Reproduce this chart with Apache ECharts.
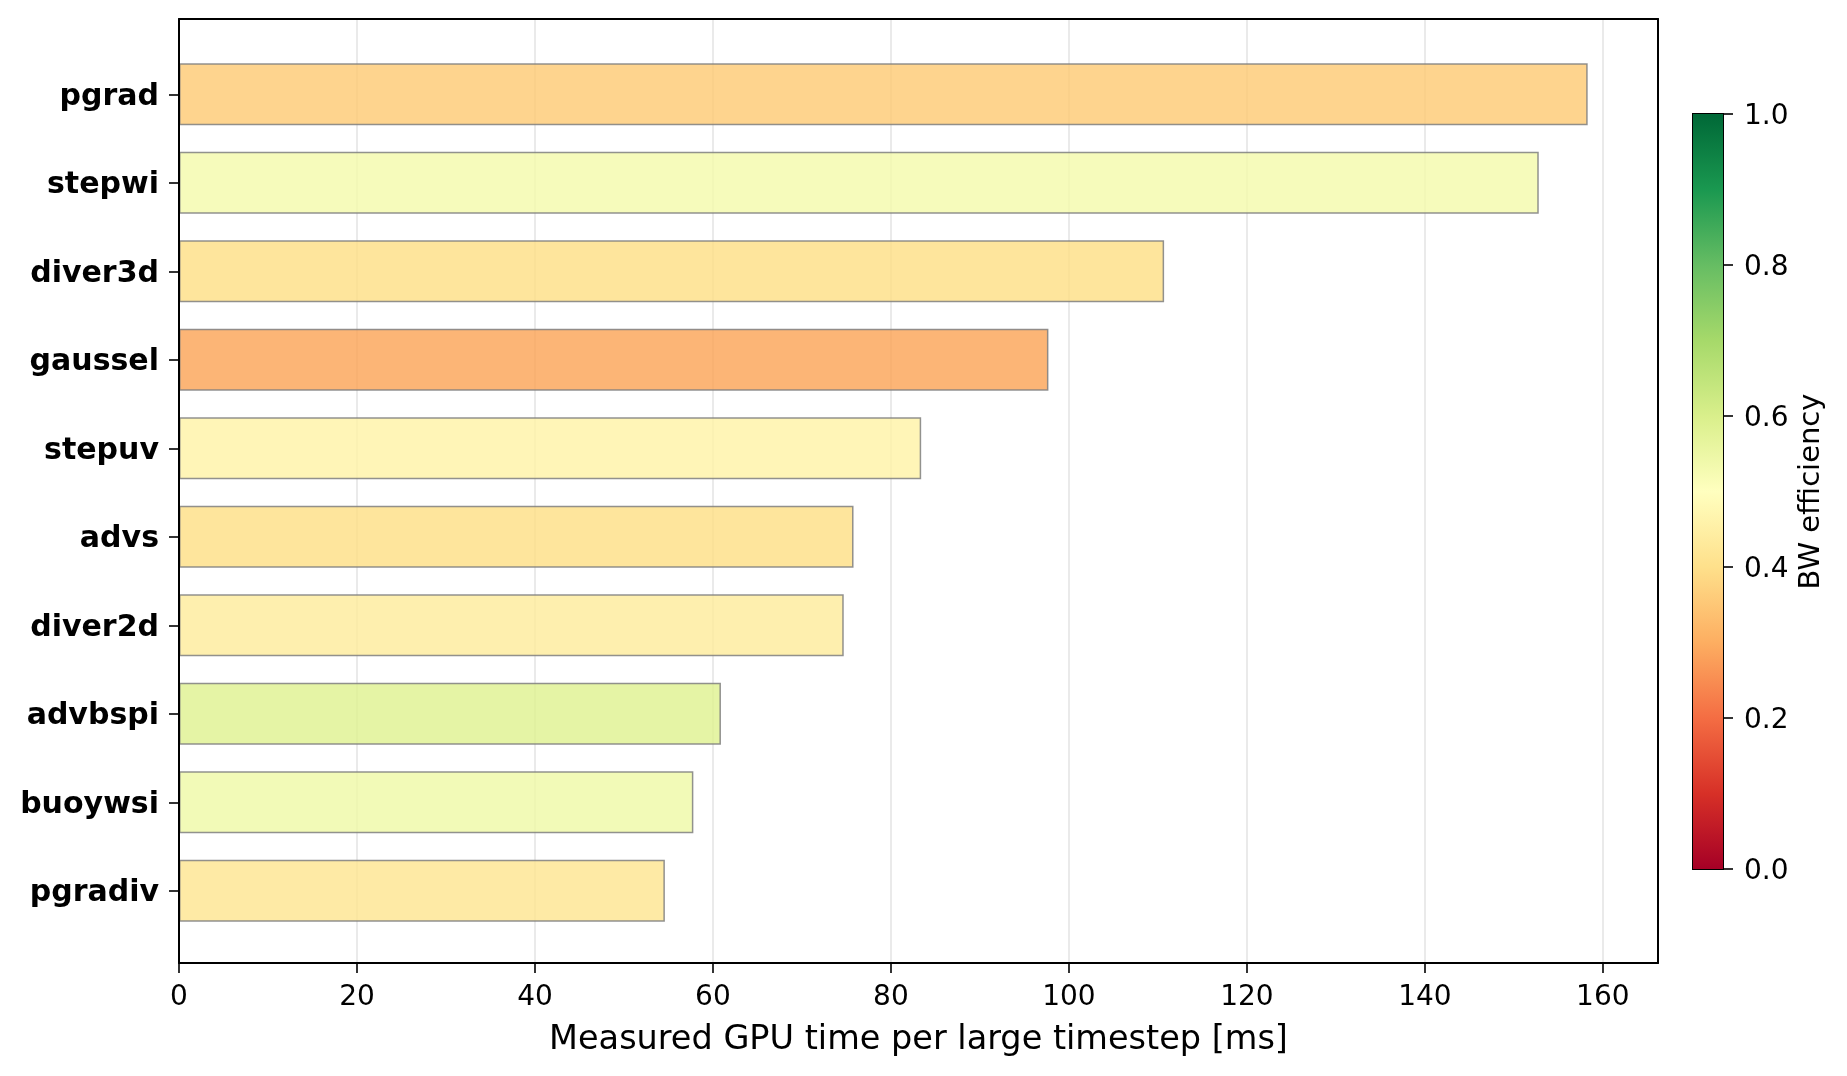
<!DOCTYPE html>
<html>
<head>
<meta charset="utf-8">
<title>GPU time per kernel</title>
<script src="https://cdn.jsdelivr.net/npm/echarts@6/dist/echarts.min.js"></script>
<style>
  html, body { margin: 0; padding: 0; background: #fff; }
  #chart { width: 1847px; height: 1076px; }
</style>
</head>
<body>
<div id="chart"></div>
<script>
// kernels, top to bottom
const kernels = ['pgrad', 'stepwi', 'diver3d', 'gaussel', 'stepuv', 'advs', 'diver2d', 'advbspi', 'buoywsi', 'pgradiv'];
// measured GPU time per large timestep [ms]
const gpuTime = [158.3, 152.8, 110.7, 97.7, 83.4, 75.8, 74.7, 60.9, 57.8, 54.6];
// bandwidth efficiency (colour)
const bwEff = [0.36, 0.53, 0.40, 0.29, 0.46, 0.40, 0.44, 0.58, 0.54, 0.42];
// colorbar ticks
const cbTicks = [0, 0.2, 0.4, 0.6, 0.8, 1.0];

// RdYlGn
const rdylgn = ['#a50026', '#d73027', '#f46d43', '#fdae61', '#fee08b', '#ffffbf',
                '#d9ef8b', '#a6d96a', '#66bd63', '#1a9850', '#006837'];

const font = 'DejaVu Sans';
const xMax = 166.2;

let chart = echarts.init(document.getElementById('chart'));

let barData = [];
for (let i = 0; i < kernels.length; i++) {
  barData.push([gpuTime[i], kernels[i], bwEff[i]]);
}

let cbStops = rdylgn.map((c, i) => ({ offset: i / (rdylgn.length - 1), color: c }));

// black frame line
const frameLine = { show: true, onZero: false, lineStyle: { color: '#000', width: 2 } };

chart.setOption({
  animation: false,
  textStyle: { fontFamily: font },
  grid: [
    // bars
    { left: 179, right: 189, top: 50, bottom: 141 },
    // frame + x axis
    { left: 179, right: 189, top: 19, bottom: 113 },
    // colorbar
    { left: 1693, width: 30, top: 114, height: 755, show: true, borderColor: '#000', borderWidth: 2 }
  ],
  visualMap: {
    type: 'continuous',
    show: false,
    min: 0,
    max: 1,
    dimension: 2,
    seriesIndex: 0,
    inRange: { color: rdylgn }
  },
  xAxis: [
    { gridIndex: 0, type: 'value', min: 0, max: xMax, show: false },
    {
      gridIndex: 1, type: 'value', min: 0, max: xMax, interval: 20,
      name: 'Measured GPU time per large timestep [ms]',
      nameLocation: 'middle', nameGap: 60,
      nameTextStyle: { fontSize: 33.5, color: '#000', fontFamily: font },
      axisLine: frameLine,
      axisTick: { show: true, inside: false, length: 10, lineStyle: { color: '#000', width: 1.6 } },
      axisLabel: {
        fontSize: 28, color: '#000', margin: 21, fontFamily: font,
        showMaxLabel: false,
        formatter: v => (v % 20 === 0 ? String(v) : '')
      },
      splitLine: { show: true, lineStyle: { color: '#e3e3e3', width: 1.5 } }
    },
    {
      gridIndex: 1, type: 'value', position: 'top', min: 0, max: xMax, z: 10,
      axisLine: frameLine, axisTick: { show: false }, axisLabel: { show: false }, splitLine: { show: false }
    },
    { gridIndex: 2, type: 'category', data: ['cb'], show: false }
  ],
  yAxis: [
    {
      gridIndex: 0, type: 'category', data: kernels, inverse: true,
      axisLine: { show: false },
      axisTick: { show: true, alignWithLabel: true, length: 10, lineStyle: { color: '#000', width: 1.6 } },
      axisLabel: {
        margin: 20,
        formatter: v => '{k|' + v + '}',
        rich: { k: { fontSize: 30, fontWeight: 'bold', color: '#000', fontFamily: font, padding: [5, 0, 0, 0] } }
      },
      splitLine: { show: false }
    },
    {
      gridIndex: 1, type: 'value', position: 'left', min: 0, max: 1, z: 10,
      axisLine: frameLine, axisTick: { show: false }, axisLabel: { show: false }, splitLine: { show: false }
    },
    {
      gridIndex: 1, type: 'value', position: 'right', min: 0, max: 1, z: 10,
      axisLine: frameLine, axisTick: { show: false }, axisLabel: { show: false }, splitLine: { show: false }
    },
    {
      gridIndex: 2, type: 'value', position: 'right', min: 0, max: 1, interval: 0.2,
      name: 'BW efficiency', nameLocation: 'middle', nameRotate: 90, nameGap: 74,
      nameTextStyle: { fontSize: 29, color: '#000', fontFamily: font },
      axisLine: { show: false },
      axisTick: { show: true, length: 10, lineStyle: { color: '#000', width: 1.6 } },
      axisLabel: {
        margin: 21,
        formatter: v => '{t|' + v.toFixed(1) + '}',
        rich: { t: { fontSize: 28, color: '#000', fontFamily: font, padding: [5, 0, 0, 0] } }
      },
      splitLine: { show: false }
    }
  ],
  series: [
    {
      type: 'bar',
      xAxisIndex: 0,
      yAxisIndex: 0,
      encode: { x: 0, y: 1 },
      barWidth: '70%',
      data: barData,
      z: 3,
      itemStyle: { opacity: 0.85, borderColor: '#7f7f7f', borderWidth: 1.5 }
    },
    {
      // colorbar
      type: 'bar',
      xAxisIndex: 3,
      yAxisIndex: 3,
      barWidth: '100%',
      data: [cbTicks[cbTicks.length - 1]],
      itemStyle: { color: new echarts.graphic.LinearGradient(0, 1, 0, 0, cbStops) }
    }
  ]
});
</script>
</body>
</html>
